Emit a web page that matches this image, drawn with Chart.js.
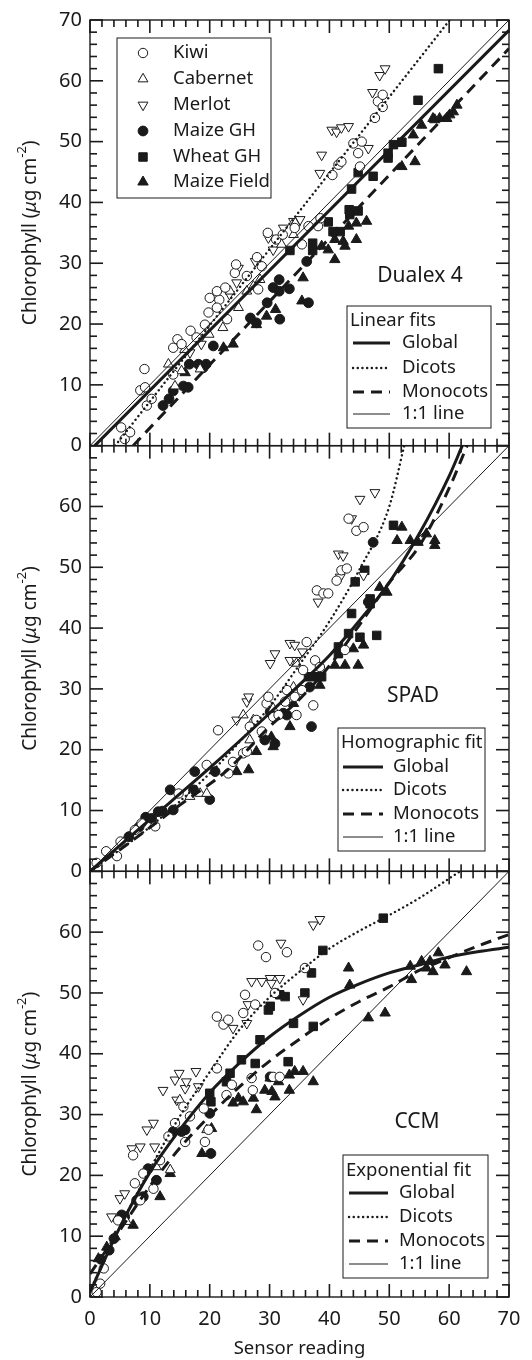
<!DOCTYPE html>
<html>
<head>
<meta charset="utf-8">
<title>Chlorophyll vs sensor reading</title>
<script src="https://cdn.jsdelivr.net/npm/chart.js"></script>
<style>
  html, body { margin: 0; padding: 0; background: #fff; }
  #wrap { position: relative; width: 532px; height: 1360px; }
</style>
</head>
<body>
<div id="wrap">
  <canvas id="chart" width="532" height="1360"></canvas>
</div>
<script>
// ---- data: [sensor reading, chlorophyll] ----

// Dualex 4
const dxKiwi = [[5.8,1.1],[5.2,3.0],[6.7,2.2],[9.1,12.6],[8.4,9.1],[9.2,9.6],[9.5,6.6],[10.3,7.7],[13.9,11.7],[13.9,16.1],[14.6,17.5],[15.3,16.7],[16.8,18.9],[17.8,17.8],[19.2,19.9],[19.8,21.9],[20.0,24.3],[21.6,24.0],[21.2,22.7],[21.2,25.4],[22.6,26.0],[22.9,20.8],[24.2,28.4],[24.4,29.8],[26.2,27.9],[27.9,31.0],[28.1,25.7],[28.7,29.5],[29.7,35.0],[31.1,33.9],[32.2,34.7],[34.2,35.8],[35.4,33.1],[36.5,36.1],[38.1,36.1],[38.5,37.4],[40.5,44.5],[41.5,46.2],[42.0,46.7],[44.0,49.7],[44.8,48.1],[45.4,50.0],[45.1,45.9],[47.6,53.9],[48.1,56.6],[48.9,57.7],[48.9,55.7]];
const dxCabernet = [[13.1,13.4],[14.2,9.8],[15.3,12.3],[15.8,15.8],[18.4,12.6],[19.9,18.3],[22.2,19.4],[23.4,25.4],[24.8,22.7],[26.2,25.4],[27.3,26.2],[28.4,27.3],[32.0,33.1],[34.0,34.7],[34.3,36.6]];
const dxMerlot = [[16.7,15.3],[18.4,17.5],[18.6,16.7],[23.3,24.9],[24.5,26.8],[24.8,29.2],[27.6,30.3],[29.8,34.2],[30.6,32.2],[32.3,35.8],[34.0,36.9],[35.1,37.2],[38.4,44.8],[38.7,47.8],[40.4,51.9],[41.2,51.6],[42.0,52.3],[43.2,52.5],[46.5,48.9],[47.2,58.1],[48.4,60.9],[49.3,62.0]];
const dxMaizeGH = [[12.2,6.6],[13.2,7.7],[13.9,9.0],[15.6,9.8],[16.4,9.6],[16.6,13.4],[18.1,13.4],[18.9,12.8],[19.4,13.4],[20.6,16.4],[26.8,21.0],[27.8,20.2],[29.6,23.5],[30.6,26.0],[31.6,27.3],[31.6,25.4],[31.7,20.8],[33.3,25.8],[36.2,30.3],[36.5,23.5]];
const dxWheatGH = [[33.4,32.1],[37.2,33.3],[37.2,32.1],[39.8,36.8],[40.6,35.2],[41.8,35.2],[43.3,38.8],[43.4,38.0],[44.8,38.6],[43.7,42.2],[44.8,44.9],[47.3,44.3],[49.8,47.3],[49.8,48.1],[50.7,49.5],[52.1,49.9],[54.8,56.8],[58.2,62.0]];
const dxMaizeField = [[15.9,12.0],[22.3,16.1],[23.9,16.7],[27.8,19.9],[29.5,21.3],[31.0,22.4],[35.4,23.8],[35.6,27.6],[38.7,32.8],[39.8,32.2],[40.9,30.6],[40.9,33.9],[42.3,33.6],[42.6,32.8],[43.2,36.1],[44.5,36.6],[44.5,33.9],[46.2,36.9],[52.1,45.9],[54.3,46.7],[54.0,51.1],[55.4,52.7],[57.3,53.8],[57.6,53.6],[58.4,53.8],[59.6,53.8],[60.1,54.4],[60.7,54.9],[61.3,56.0]];
const dxGlobal = [[0.8,0],[70,68.3]];
const dxDicots = [[4.2,0],[60.1,70]];
const dxMonocots = [[7.2,0],[70,65.3]];

// SPAD
const spKiwi = [[1.1,1.4],[2.7,3.3],[4.5,2.5],[5.1,4.9],[7.5,6.8],[8.6,7.9],[10.9,7.4],[14.8,12.8],[19.5,17.5],[21.4,23.2],[23.1,16.1],[23.9,18.0],[25.6,19.4],[26.2,19.7],[26.7,23.8],[27.8,24.9],[28.7,23.0],[29.5,27.6],[29.8,28.7],[30.6,25.4],[31.5,25.7],[32.6,27.9],[32.9,29.8],[34.2,28.7],[34.5,25.7],[35.4,29.8],[35.6,33.1],[36.2,37.7],[37.3,27.3],[37.6,34.7],[38.4,33.6],[37.9,46.2],[39.0,45.7],[39.8,45.7],[41.2,47.8],[42.0,49.5],[42.9,49.8],[42.6,36.4],[43.2,58.0],[44.5,56.0],[45.7,56.6]];
const spCabernet = [[16.7,12.3],[18.4,12.8],[19.5,12.8],[26.7,21.6],[25.6,25.7],[27.3,24.9],[30.6,26.8],[34.0,30.3],[34.5,34.2]];
const spMerlot = [[24.5,24.9],[26.2,27.9],[26.5,28.7],[30.1,34.2],[30.9,35.8],[33.4,37.5],[34.2,37.2],[33.4,34.7],[34.5,34.7],[35.5,36.1],[38.1,44.3],[41.5,52.2],[41.8,48.4],[42.3,51.9],[43.7,58.0],[45.1,61.2],[45.7,48.7],[47.6,62.3]];
const spMaizeGH = [[6.5,5.7],[8.2,7.3],[9.3,8.9],[10.3,8.7],[11.4,9.8],[12.1,9.9],[13.4,13.4],[13.9,10.1],[17.3,13.4],[17.5,16.4],[20.0,11.8],[20.9,16.4],[29.2,21.6],[30.9,21.0],[30.1,26.2],[32.3,26.0],[32.9,25.7],[36.7,30.3],[37.0,23.8],[46.5,44.3],[47.3,54.1]];
const spWheatGH = [[36.5,32.0],[37.9,32.0],[38.7,32.0],[41.5,36.9],[41.5,35.8],[43.2,39.1],[45.1,38.5],[47.9,38.8],[43.7,42.4],[44.3,47.6],[45.9,49.5],[46.8,44.8],[46.8,44.0],[50.7,56.9]];
const spMaizeField = [[24.5,16.4],[26.5,16.7],[27.8,19.7],[30.3,22.1],[30.6,20.5],[33.4,23.8],[34.0,27.6],[38.4,30.6],[40.9,33.9],[42.6,33.9],[44.0,36.6],[44.8,33.9],[45.7,37.2],[48.4,46.7],[49.6,45.9],[51.3,54.4],[52.1,56.6],[53.5,54.4],[54.8,54.1],[56.2,55.5],[57.6,54.4],[57.6,53.6]];
const spGlobal = [[0,0],[10,8.5],[20,17],[30,26],[35,30.7],[40,35.5],[45,41.2],[50,47.5],[55,55.5],[60,65],[62.2,70]];
const spDicots = [[0,0],[10,7.3],[20,16.1],[25,21.3],[30,27.1],[35,34],[40,41.1],[45,49.6],[50,60],[52.5,70]];
const spMonocots = [[0,0],[7,5],[15,10.9],[23,16.7],[30,23.8],[35,28.3],[40,33.8],[45,40.5],[50,47.5],[55,53.5],[60,63],[63,70]];

// CCM
const ccKiwi = [[1.1,0.8],[1.7,2.2],[2.3,4.7],[4.7,12.6],[7.2,23.3],[7.5,18.7],[8.4,15.9],[8.9,20.3],[10.6,17.8],[11.7,22.5],[13.1,26.4],[14.2,28.6],[15.6,31.3],[15.9,25.5],[16.7,29.7],[19.0,31.0],[19.2,25.5],[19.8,27.5],[21.2,37.6],[21.2,46.1],[22.3,44.8],[22.8,33.2],[23.1,45.6],[23.7,34.9],[25.6,46.7],[25.9,49.7],[27.0,36.0],[27.2,34.0],[27.6,48.1],[28.1,57.8],[29.4,55.9],[30.6,36.2],[30.9,50.0],[31.7,36.2],[32.9,56.7],[35.9,54.1]];
const ccCabernet = [[6.1,12.4],[11.1,21.4],[13.4,20.9],[15.0,32.4],[19.5,27.5]];
const ccMerlot = [[3.6,13.2],[5.0,16.2],[5.8,17.0],[7.0,24.4],[8.4,24.7],[9.5,27.5],[10.6,28.6],[10.8,24.7],[12.2,34.0],[14.2,35.7],[14.5,32.4],[14.9,36.8],[15.9,34.3],[16.1,35.4],[17.7,37.1],[18.1,34.6],[23.9,44.2],[26.2,45.0],[26.4,48.1],[27.0,51.9],[28.7,51.9],[30.1,52.4],[30.3,51.6],[31.7,52.4],[31.9,58.2],[35.6,48.9],[37.3,61.2],[38.4,62.1]];
const ccMaizeGH = [[1.8,6.2],[3.2,7.7],[4.0,9.6],[5.3,13.5],[5.8,13.2],[7.8,15.9],[8.9,16.5],[9.7,21.1],[11.1,19.2],[13.9,27.2],[15.3,27.2],[15.9,27.5],[20.0,30.2],[20.2,23.6],[30.1,36.2]];
const ccWheatGH = [[20.0,33.5],[20.2,32.1],[22.8,35.4],[23.4,36.8],[25.3,39.0],[27.6,38.4],[28.4,42.3],[29.8,47.2],[30.1,47.8],[31.7,49.7],[32.6,49.4],[33.1,38.7],[34.0,45.0],[35.9,50.0],[37.0,53.3],[37.3,44.5],[38.9,57.0],[49.0,62.3]];
const ccMaizeField = [[1.4,6.3],[2.8,8.2],[4.2,9.9],[7.2,11.8],[11.7,16.5],[13.4,20.3],[18.7,23.6],[20.3,27.7],[23.9,31.9],[24.8,32.7],[25.6,32.1],[27.3,32.7],[27.8,30.8],[29.2,34.0],[30.1,36.0],[30.4,33.8],[30.9,32.9],[31.5,35.4],[33.3,34.0],[33.3,36.5],[34.2,37.1],[35.6,37.1],[37.3,35.4],[43.2,54.1],[43.4,51.3],[46.5,45.9],[49.3,46.7],[53.5,54.4],[53.7,52.2],[55.4,55.2],[56.2,54.1],[56.8,55.2],[57.3,53.5],[58.2,56.6],[59.3,54.6],[62.9,53.5]];
const ccGlobal = [[0,0.8],[5,11.5],[10,20.5],[15,27.5],[20,33.6],[25,38.5],[30,42.8],[35,46.3],[40,49.3],[45,51.5],[50,53.3],[55,54.6],[60,55.9],[65,56.8],[70,57.5]];
const ccDicots = [[0,1],[5,11.5],[10,21],[15,29.7],[20,37],[25,44],[30,49.3],[35,53.5],[40,57.3],[45,60.2],[50,62.8],[55,65.6],[61.8,70]];
const ccMonocots = [[0,3.8],[5,11],[10,18.2],[15,24.5],[20,29.8],[25,34.6],[30,38.8],[35,42.4],[40,45.8],[45,48.6],[50,51],[55,53.7],[60,55.8],[65,57.8],[70,59.6]];

const oneToOne = [[0,0],[70,70]];
const speciesNames = ['Kiwi', 'Cabernet', 'Merlot', 'Maize GH', 'Wheat GH', 'Maize Field'];
const fitNames = ['Global', 'Dicots', 'Monocots', '1:1 line'];
const majorTicks = [0, 10, 20, 30, 40, 50, 60, 70];
const minorTicks = [0, 2, 4, 6, 8, 10, 12, 14, 16, 18, 20, 22, 24, 26, 28, 30, 32, 34, 36, 38, 40, 42, 44, 46, 48, 50, 52, 54, 56, 58, 60, 62, 64, 66, 68, 70];

// ---- styles ----
const ink = '#1a1a1a';
const FONT = '"Noto Sans", "DejaVu Sans", sans-serif';
Chart.defaults.font.family = FONT;
Chart.defaults.color = ink;

const markers = [
  { style: 'circle',   rot: 0,   r: 4.7, open: true },
  { style: 'triangle', rot: 0,   r: 5.7, open: true },
  { style: 'triangle', rot: 180, r: 5.7, open: true },
  { style: 'circle',   rot: 0,   r: 4.9, open: false },
  { style: 'rect',     rot: 0,   r: 6.0, open: false },
  { style: 'triangle', rot: 0,   r: 6.0, open: false },
];
const fitStyles = [
  { width: 3,   dash: [],      cap: 'butt' },
  { width: 2.4, dash: [0.1, 4.6], cap: 'round' },
  { width: 3,   dash: [11, 7], cap: 'butt' },
  { width: 1,   dash: [],      cap: 'butt' },
];

// one stacked y axis per panel, top to bottom
const panels = [
  { axis: 'yDualex', weight: 3, show70: true, name: 'Dualex 4', namePos: [420, 276], fitTitle: 'Linear fits',
    series: [dxKiwi, dxCabernet, dxMerlot, dxMaizeGH, dxWheatGH, dxMaizeField],
    fits: [dxGlobal, dxDicots, dxMonocots, oneToOne],
    speciesBox: { x1: 117, y1: 38, x2: 271, y2: 198, markX: 143, textX: 173, rows: [53, 79, 105, 131, 157, 182] },
    fitBox: { x1: 347, y1: 306, x2: 491, y2: 428, titleX: 350, titleY: 321, rows: [343, 368, 392, 414], lineX1: 353, lineX2: 390, textX: 402 } },
  { axis: 'ySpad', weight: 2, show70: false, name: 'SPAD', namePos: [413, 696], fitTitle: 'Homographic fit',
    series: [spKiwi, spCabernet, spMerlot, spMaizeGH, spWheatGH, spMaizeField],
    fits: [spGlobal, spDicots, spMonocots, oneToOne],
    fitBox: { x1: 338, y1: 728, x2: 485, y2: 851, titleX: 341, titleY: 743, rows: [767, 790, 814, 837], lineX1: 343, lineX2: 383, textX: 393 } },
  { axis: 'yCcm', weight: 1, show70: false, name: 'CCM', namePos: [417, 1122], fitTitle: 'Exponential fit',
    series: [ccKiwi, ccCabernet, ccMerlot, ccMaizeGH, ccWheatGH, ccMaizeField],
    fits: [ccGlobal, ccDicots, ccMonocots, oneToOne],
    fitBox: { x1: 343, y1: 1155, x2: 488, y2: 1278, titleX: 346, titleY: 1171, rows: [1193, 1217, 1241, 1264], lineX1: 349, lineX2: 388, textX: 399 } },
];

function pointSet(data, i, axis) {
  const m = markers[i];
  return {
    label: speciesNames[i], data, order: 1, yAxisID: axis,
    pointStyle: m.style, pointRotation: m.rot, pointRadius: m.r,
    backgroundColor: m.open ? '#fff' : ink, borderColor: ink, borderWidth: 1
  };
}
function fitLine(data, i, axis) {
  const f = fitStyles[i];
  return {
    label: fitNames[i], data, order: 0, yAxisID: axis, showLine: true, pointRadius: 0,
    borderColor: ink, borderWidth: f.width, borderDash: f.dash, borderCapStyle: f.cap,
    cubicInterpolationMode: 'monotone', fill: false
  };
}

function drawMarker(ctx, m, x, y) {
  ctx.save();
  ctx.fillStyle = m.open ? '#fff' : ink; ctx.strokeStyle = ink; ctx.lineWidth = 1;
  ctx.beginPath();
  if (m.style === 'circle') {
    ctx.arc(x, y, m.r, 0, Math.PI * 2);
  } else if (m.style === 'rect') {
    const s = m.r * Math.SQRT1_2;
    ctx.rect(x - s, y - s, 2 * s, 2 * s);
  } else {
    const dir = m.rot ? -1 : 1, r = m.r;
    ctx.moveTo(x, y - dir * r);
    ctx.lineTo(x + r * 0.866, y + dir * r / 2);
    ctx.lineTo(x - r * 0.866, y + dir * r / 2);
    ctx.closePath();
  }
  ctx.fill(); ctx.stroke();
  ctx.restore();
}

function drawYTitle(ctx, cx0, cy0) {
  const fs = 19;
  const parts = [
    { t: 'Chlorophyll (', f: `${fs}px ${FONT}`, dy: 0 },
    { t: 'μ', f: `italic ${fs}px ${FONT}`, dy: 0 },
    { t: 'g cm', f: `${fs}px ${FONT}`, dy: 0 },
    { t: '-2', f: `${fs * 0.68}px ${FONT}`, dy: -fs * 0.45 },
    { t: ')', f: `${fs}px ${FONT}`, dy: 0 },
  ];
  let total = 0;
  parts.forEach(p => { ctx.font = p.f; p.w = ctx.measureText(p.t).width; total += p.w; });
  ctx.save();
  ctx.translate(cx0, cy0);
  ctx.rotate(-Math.PI / 2);
  ctx.fillStyle = ink; ctx.textBaseline = 'middle'; ctx.textAlign = 'left';
  let cx = -total / 2;
  parts.forEach(p => { ctx.font = p.f; ctx.fillText(p.t, cx, p.dy); cx += p.w; });
  ctx.restore();
}

// per panel: frame, inward ticks, y title, legends and panel name
const panelDecor = {
  id: 'panelDecor',
  afterDraw(chart) {
    const ctx = chart.ctx;
    const a = chart.chartArea;
    const xs = chart.scales.x;
    panels.forEach(p => {
      const ys = chart.scales[p.axis];
      const top = ys.top, bottom = ys.bottom;
      ctx.save();
      ctx.setLineDash([]);
      ctx.strokeStyle = ink;
      ctx.fillStyle = ink;
      ctx.lineWidth = 1.4;
      ctx.strokeRect(a.left, top, a.right - a.left, bottom - top);

      const tw = 1.6;
      minorTicks.forEach(v => {
        const len = majorTicks.includes(v) ? 13 : 7;
        const px = xs.getPixelForValue(v);
        const py = ys.getPixelForValue(v);
        ctx.fillRect(px - tw / 2, top, tw, len);
        ctx.fillRect(px - tw / 2, bottom - len, tw, len);
        ctx.fillRect(a.left, py - tw / 2, len, tw);
        ctx.fillRect(a.right - len, py - tw / 2, len, tw);
      });

      drawYTitle(ctx, 31, (top + bottom) / 2);

      ctx.fillStyle = ink; ctx.textAlign = 'center'; ctx.textBaseline = 'middle';
      ctx.font = `21px ${FONT}`;
      ctx.fillText(p.name, p.namePos[0], p.namePos[1]);

      if (p.speciesBox) {
        const b = p.speciesBox;
        ctx.fillStyle = '#fff'; ctx.fillRect(b.x1, b.y1, b.x2 - b.x1, b.y2 - b.y1);
        ctx.lineWidth = 1; ctx.strokeRect(b.x1, b.y1, b.x2 - b.x1, b.y2 - b.y1);
        ctx.font = `18.5px ${FONT}`; ctx.textAlign = 'left';
        speciesNames.forEach((n, i) => {
          drawMarker(ctx, markers[i], b.markX, b.rows[i]);
          ctx.fillStyle = ink;
          ctx.fillText(n, b.textX, b.rows[i]);
        });
      }

      const f = p.fitBox;
      ctx.fillStyle = '#fff'; ctx.fillRect(f.x1, f.y1, f.x2 - f.x1, f.y2 - f.y1);
      ctx.lineWidth = 1; ctx.strokeStyle = ink;
      ctx.strokeRect(f.x1, f.y1, f.x2 - f.x1, f.y2 - f.y1);
      ctx.fillStyle = ink; ctx.textAlign = 'left'; ctx.font = `18.5px ${FONT}`;
      ctx.fillText(p.fitTitle, f.titleX, f.titleY);
      fitNames.forEach((n, i) => {
        const s = fitStyles[i], ry = f.rows[i];
        ctx.save();
        ctx.lineWidth = s.width; ctx.setLineDash(s.dash); ctx.lineCap = s.cap;
        ctx.beginPath(); ctx.moveTo(f.lineX1, ry); ctx.lineTo(f.lineX2, ry); ctx.stroke();
        ctx.restore();
        ctx.fillText(n, f.textX, ry);
      });
      ctx.restore();
    });
  }
};

const datasets = [];
panels.forEach(p => {
  p.fits.forEach((d, i) => datasets.push(fitLine(d, i, p.axis)));
  p.series.forEach((d, i) => datasets.push(pointSet(d, i, p.axis)));
});

const scales = {
  x: {
    type: 'linear', position: 'bottom', min: 0, max: 70,
    afterBuildTicks: s => { s.ticks = majorTicks.map(v => ({ value: v })); },
    grid: { display: false, drawTicks: false },
    border: { display: false },
    ticks: { padding: 10, font: { size: 20 }, color: ink, maxRotation: 0 },
    title: { display: true, text: 'Sensor reading', font: { size: 18.5 }, color: ink, padding: { top: 0, bottom: 0 } },
    afterFit: s => { s.height = 63; }
  }
};
// bottom panel's axis defined first so the top panel's axis is placed first in the stack
[...panels].reverse().forEach(p => {
  scales[p.axis] = {
    type: 'linear', position: 'left', stack: 'panels', stackWeight: 1, weight: p.weight,
    min: 0, max: 70,
    afterBuildTicks: s => { s.ticks = majorTicks.map(v => ({ value: v })); },
    grid: { display: false, drawTicks: false },
    border: { display: false },
    ticks: {
      padding: 8, font: { size: 20 }, color: ink,
      callback: v => (v === 70 && !p.show70) ? '' : v
    },
    afterFit: s => { s.width = 90; }
  };
});

new Chart(document.getElementById('chart'), {
  type: 'scatter',
  data: { datasets },
  options: {
    responsive: false,
    animation: false,
    events: [],
    layout: { padding: { left: 0, right: 23, top: 18, bottom: 0 } },
    plugins: { legend: { display: false }, tooltip: { enabled: false } },
    scales
  },
  plugins: [panelDecor]
});
</script>
</body>
</html>
